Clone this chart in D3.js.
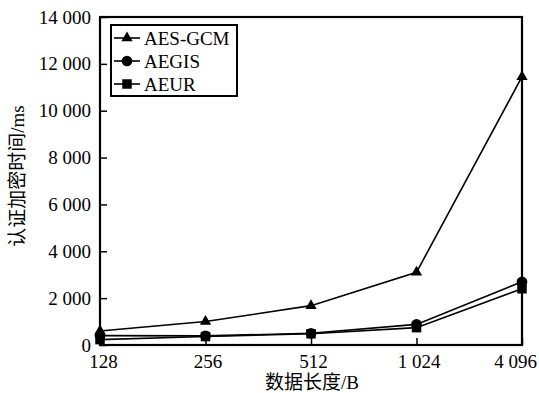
<!DOCTYPE html>
<html>
<head>
<meta charset="utf-8">
<script src="https://cdn.jsdelivr.net/npm/d3@7"></script>
<style>
  body { margin: 0; background: #fff; }
  svg { display: block; }
  text { font-family: "Liberation Serif", "Noto Sans CJK SC", serif; fill: #000; }
</style>
</head>
<body>
<div id="chart"></div>
<script>
// data
const lengths = ["128", "256", "512", "1 024", "4 096"];
const aesGcm = [600, 1000, 1680, 3100, 11450];
const aegis = [400, 390, 500, 880, 2700];
const aeur = [230, 360, 480, 740, 2400];
const yTicks = [0, 2000, 4000, 6000, 8000, 10000, 12000, 14000];

const series = [
    { name: "AES-GCM", values: aesGcm, symbol: d3.symbolTriangle },
    { name: "AEGIS", values: aegis, symbol: d3.symbolCircle },
    { name: "AEUR", values: aeur, symbol: d3.symbolSquare }
];

const W = 539, H = 393;
const margin = { top: 17, right: 17, bottom: 48, left: 100 };
const width = W - margin.left - margin.right;
const height = H - margin.top - margin.bottom;

const svg = d3.select("#chart").append("svg")
    .attr("width", W)
    .attr("height", H);

const g = svg.append("g")
    .attr("transform", `translate(${margin.left},${margin.top})`);

const x = d3.scalePoint().domain(lengths).range([0, width]);
const y = d3.scaleLinear().domain([0, 14000]).range([height, 0]);

const fmt = v => d3.format(",")(v).replace(",", " ");

// y axis, ticks pointing inward
const yAxis = g.append("g")
    .call(d3.axisLeft(y).tickValues(yTicks).tickSize(-7).tickPadding(9).tickFormat(fmt));
yAxis.select(".domain").remove();
yAxis.selectAll("line").attr("stroke", "#000").attr("stroke-width", 1.5);
yAxis.selectAll("text").style("font-size", "19px");

// x axis
const xAxis = g.append("g")
    .attr("transform", `translate(0,${height})`)
    .call(d3.axisBottom(x).tickSize(-7).tickPadding(10));
xAxis.select(".domain").remove();
xAxis.selectAll("line").attr("stroke", "#000").attr("stroke-width", 1.5);
xAxis.selectAll("text").style("font-size", "19px")
    .attr("dx", (d, i) => i === 0 ? 3 : (i === lengths.length - 1 ? -7 : 2));

// frame
g.append("rect")
    .attr("width", width)
    .attr("height", height)
    .attr("fill", "none")
    .attr("stroke", "#000")
    .attr("stroke-width", 2.2);

const line = d3.line()
    .x((d, i) => x(lengths[i]))
    .y(d => y(d));

series.forEach(s => {
    g.append("path")
        .datum(s.values)
        .attr("d", line)
        .attr("fill", "none")
        .attr("stroke", "#000")
        .attr("stroke-width", 1.6);

    g.selectAll(null)
        .data(s.values)
        .enter().append("path")
        .attr("d", d3.symbol().type(s.symbol).size(s.symbol === d3.symbolTriangle ? 55 : 90))
        .attr("transform", (d, i) => `translate(${x(lengths[i])},${y(d)})`)
        .attr("fill", "#000");
});

// legend
const legend = svg.append("g").attr("transform", "translate(111,25)");
legend.append("rect")
    .attr("width", 126)
    .attr("height", 71)
    .attr("fill", "#fff")
    .attr("stroke", "#000")
    .attr("stroke-width", 2);

series.forEach((s, i) => {
    const cy = 13 + i * 23;
    legend.append("line")
        .attr("x1", 3).attr("x2", 29)
        .attr("y1", cy).attr("y2", cy)
        .attr("stroke", "#000").attr("stroke-width", 1.6);
    legend.append("path")
        .attr("d", d3.symbol().type(s.symbol).size(s.symbol === d3.symbolTriangle ? 55 : 90))
        .attr("transform", `translate(16,${cy})`)
        .attr("fill", "#000");
    legend.append("text")
        .attr("x", 33)
        .attr("y", cy)
        .attr("dy", "0.35em")
        .style("font-size", "19px")
        .text(s.name);
});

// axis titles
svg.append("text")
    .attr("x", 312)
    .attr("y", 389)
    .attr("text-anchor", "middle")
    .style("font-size", "19px")
    .text("数据长度/B");

svg.append("text")
    .attr("transform", "translate(17,176) rotate(-90)")
    .attr("text-anchor", "middle")
    .attr("dy", "0.35em")
    .style("font-size", "19px")
    .text("认证加密时间/ms");
</script>
</body>
</html>
